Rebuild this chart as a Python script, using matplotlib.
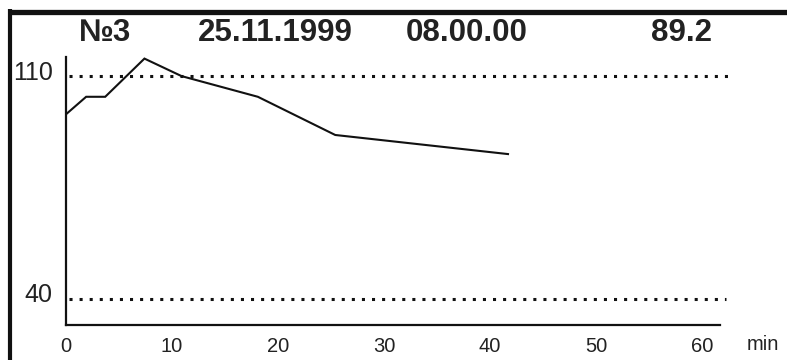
import matplotlib
matplotlib.use("Agg")
import matplotlib.pyplot as plt
from matplotlib import font_manager
from matplotlib.lines import Line2D
from matplotlib.transforms import ScaledTranslation

# Recorded curve: minutes since start vs. value
t_min = [0, 1.9, 3.7, 7.4, 10.9, 18.1, 25.4, 41.7]
values = [98.0, 103.5, 103.5, 115.5, 110.0, 103.5, 91.5, 85.5]

# Limit levels drawn as dotted lines
upper_limit = 110
lower_limit = 40

x_ticks = [0, 10, 20, 30, 40, 50, 60]
x_tick_labels = ["0", "10", "20", "30", "40", "50", "60"]
y_ticks = [lower_limit, upper_limit]
y_tick_labels = ["40", "110"]

header = ["№3", "25.11.1999", "08.00.00", "89.2"]
header_x_px = [105, 275, 467, 682]


def pick_font(stem):
    for f in font_manager.findSystemFonts():
        if f.replace("\\", "/").split("/")[-1].lower() == stem.lower():
            return f
    return None


reg_file = pick_font("LiberationSans-Regular.ttf")
bold_file = pick_font("LiberationSans-Bold.ttf")
fp_reg = font_manager.FontProperties(fname=reg_file) if reg_file else font_manager.FontProperties(family="DejaVu Sans")
fp_bold = font_manager.FontProperties(fname=bold_file) if bold_file else font_manager.FontProperties(family="DejaVu Sans", weight="bold")

W, H = 787, 360
fig = plt.figure(figsize=(W / 100, H / 100), dpi=100)

ax_left, ax_right = 66, 720
ax_top, ax_bottom = 57, 325
ax = fig.add_axes([ax_left / W, 1 - ax_bottom / H,
                   (ax_right - ax_left) / W, (ax_bottom - ax_top) / H])

ax.set_xlim(0, 61.7)
ax.set_ylim(31.8, 116)

ax.plot(t_min, values, color="#111111", lw=1.5, solid_joinstyle="miter")

ax.hlines(upper_limit, 0.3, 62.8, colors="#111111", lw=2.2,
          linestyles=(0, (1, 2.3)), clip_on=False)
ax.hlines(lower_limit, 0.3, 62.3, colors="#111111", lw=2.2,
          linestyles=(0, (1, 2.3)), clip_on=False)

for side in ("top", "right"):
    ax.spines[side].set_visible(False)
for side in ("left", "bottom"):
    ax.spines[side].set_linewidth(1.6)
    ax.spines[side].set_color("#111111")

ax.set_xticks(x_ticks)
ax.set_xticklabels(x_tick_labels, color="#222222")
ax.set_yticks(y_ticks)
ax.set_yticklabels(y_tick_labels, color="#222222")
for lab in ax.get_xticklabels():
    lab.set_fontproperties(fp_reg)
    lab.set_fontsize(14.5)
for lab in ax.get_yticklabels():
    lab.set_fontproperties(fp_reg)
    lab.set_fontsize(18)
ax.tick_params(axis="x", length=0, pad=8.5)
ax.tick_params(axis="y", length=0, pad=9.5)
# lift the value labels slightly above their dotted lines
for lab in ax.get_yticklabels():
    lab.set_transform(lab.get_transform() + ScaledTranslation(0, 6 / 100, fig.dpi_scale_trans))

fig.text(763 / W, 1 - 345 / H, "min", fontproperties=fp_reg, fontsize=14.5,
         color="#222222", ha="center", va="center")

for txt, px in zip(header, header_x_px):
    fig.text(px / W, 1 - 33 / H, txt, fontproperties=fp_bold, fontsize=22.5,
             color="#222222", ha="center", va="center")

# heavy frame along the top and left edges
fig.add_artist(Line2D([8 / W, 1.0], [1 - 11.5 / H, 1 - 11.5 / H],
                      transform=fig.transFigure, color="#111111", lw=3.8,
                      solid_capstyle="butt"))
fig.add_artist(Line2D([10 / W, 10 / W], [1 - 9 / H, 0.0],
                      transform=fig.transFigure, color="#111111", lw=3.0,
                      solid_capstyle="butt"))

fig.savefig("out.png", dpi=100)
